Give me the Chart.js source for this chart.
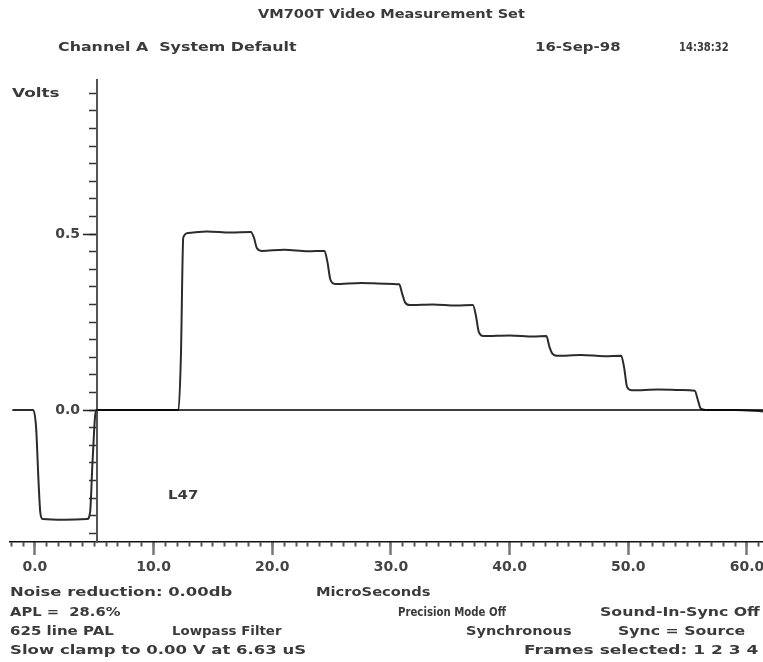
<!DOCTYPE html>
<html>
<head>
<meta charset="utf-8">
<script src="https://cdn.jsdelivr.net/npm/chart.js@4.4.0/dist/chart.umd.min.js"></script>
<style>
  html, body { margin: 0; padding: 0; background: #fff; }
  #wrap { position: relative; width: 763px; height: 662px; overflow: hidden; }
  #scope { position: absolute; left: 0; top: 0; }
  .t { position: absolute; font: bold 13px "DejaVu Sans", sans-serif; color: #3a3a3a;
       white-space: pre; line-height: 14px; transform-origin: 0 50%; }
</style>
</head>
<body>
<div id="wrap">
  <canvas id="scope" width="763" height="662"></canvas>

  <div class="t" style="left:258px;top:7px" data-w="267">VM700T Video Measurement Set</div>
  <div class="t" style="left:58px;top:40px" data-w="239">Channel A  System Default</div>
  <div class="t" style="left:535px;top:40px" data-w="85">16-Sep-98</div>
  <div class="t" style="left:679px;top:40px" data-w="50">14:38:32</div>
  <div class="t" style="left:12px;top:86px" data-w="48">Volts</div>
  <div class="t" style="left:168px;top:488px" data-w="30">L47</div>

  <div class="t" style="left:10px;top:585px" data-w="222">Noise reduction: 0.00db</div>
  <div class="t" style="left:316px;top:585px" data-w="115">MicroSeconds</div>
  <div class="t" style="left:10px;top:605px" data-w="110">APL =  28.6%</div>
  <div class="t" style="left:398px;top:605px" data-w="108">Precision Mode Off</div>
  <div class="t" style="left:600px;top:605px" data-w="160">Sound-In-Sync Off</div>
  <div class="t" style="left:10px;top:624px" data-w="104">625 line PAL</div>
  <div class="t" style="left:172px;top:624px" data-w="110">Lowpass Filter</div>
  <div class="t" style="left:466px;top:624px" data-w="106">Synchronous</div>
  <div class="t" style="left:618px;top:624px" data-w="127">Sync = Source</div>
  <div class="t" style="left:10px;top:643px" data-w="296">Slow clamp to 0.00 V at 6.63 uS</div>
  <div class="t" style="left:524px;top:643px" data-w="234">Frames selected: 1 2 3 4</div>
</div>
<script>
// line trace: time in microseconds, level in volts
const traceTime = [
  -1.9, -0.15, 0.1, 0.3, 0.45, 0.65, 2.5, 4.4, 4.65, 4.85, 5.15,
  8.5, 12.1, 12.3, 12.5, 12.9, 14.5, 16.5, 18.2,
  18.45, 18.7, 19.1, 21.0, 23.0, 24.4,
  24.65, 24.9, 25.3, 27.5, 29.5, 30.7,
  30.95, 31.2, 31.6, 33.5, 35.5, 36.9,
  37.15, 37.4, 37.8, 40.0, 42.0, 43.1,
  43.35, 43.6, 44.0, 46.0, 48.0, 49.4,
  49.65, 49.9, 50.3, 52.5, 54.5, 55.6,
  55.85, 56.1, 56.5, 59.0, 61.35
];
const traceVolts = [
  0, 0, -0.05, -0.2, -0.29, -0.31, -0.312, -0.31, -0.29, -0.15, 0,
  0, 0, 0.15, 0.49, 0.503, 0.507, 0.504, 0.506,
  0.49, 0.46, 0.452, 0.455, 0.451, 0.452,
  0.42, 0.37, 0.358, 0.361, 0.359, 0.357,
  0.33, 0.305, 0.298, 0.3, 0.297, 0.298,
  0.27, 0.222, 0.21, 0.212, 0.209, 0.21,
  0.18, 0.16, 0.154, 0.156, 0.153, 0.154,
  0.12, 0.065, 0.056, 0.058, 0.057, 0.055,
  0.03, 0.004, 0, 0, -0.004
];
// 0 V reference line from the volts axis to the right edge
const zeroTime = [5.2, 61.35];
const zeroVolts = [0, 0];

const xLabelTicks = [0, 10, 20, 30, 40, 50, 60];
const yLabelTicks = [0, 0.5];

const xMin = -2.1, xMax = 61.35;
const yMin = -0.375, yMax = 0.9375;
const axisAtTime = 5.2;     // the volts axis crosses here
const labelAtTime = 3.8;    // volts labels end here, left of the long ticks

// squeeze each text line to the width it has in the picture
document.querySelectorAll('.t').forEach(el => {
  const k = +el.dataset.w / el.offsetWidth;
  el.style.transform = 'scaleX(' + k + ')';
});

const tickFont = { family: 'DejaVu Sans', size: 14, weight: 'bold' };
const noPad = s => { s.paddingLeft = 0; s.paddingRight = 0; s.paddingTop = 0; s.paddingBottom = 0; };

const ctx = document.getElementById('scope').getContext('2d');
const scope = new Chart(ctx, {
  type: 'line',
  data: {
    datasets: [{
      label: 'zero',
      data: zeroTime.map((t, i) => ({ x: t, y: zeroVolts[i] })),
      borderColor: '#000',
      borderWidth: 1.3,
      pointRadius: 0,
      xAxisID: 'x',
      yAxisID: 'y'
    }, {
      label: 'trace',
      data: traceTime.map((t, i) => ({ x: t, y: traceVolts[i] })),
      borderColor: '#2b2b2b',
      borderWidth: 2,
      pointRadius: 0,
      cubicInterpolationMode: 'monotone',
      xAxisID: 'x',
      yAxisID: 'y'
    }]
  },
  options: {
    responsive: false,
    animation: false,
    events: [],
    layout: { padding: { left: 10, right: 0, top: 80, bottom: 120 } },
    plugins: { legend: { display: false }, tooltip: { enabled: false } },
    scales: {
      x: {
        type: 'linear', min: xMin, max: xMax, position: { y: yMin },
        grid: { drawOnChartArea: false, tickLength: 4, tickColor: '#555', tickWidth: 2 },
        border: { color: '#111', width: 1.5 },
        ticks: { display: false, stepSize: 1, autoSkip: false, includeBounds: false },
        afterFit: noPad
      },
      xMajor: {
        type: 'linear', min: xMin, max: xMax, position: { y: yMin },
        grid: { drawOnChartArea: false, tickLength: 13, tickColor: '#777', tickWidth: 2.5 },
        border: { display: false },
        ticks: { font: tickFont, color: '#444', padding: 4, autoSkip: false, maxRotation: 0,
                 callback: v => v.toFixed(1) },
        afterBuildTicks: s => { s.ticks = xLabelTicks.map(v => ({ value: v })); },
        afterFit: noPad
      },
      y: {
        type: 'linear', min: yMin, max: yMax, position: { x: axisAtTime },
        grid: { drawOnChartArea: false, tickLength: 7, tickColor: '#333', tickWidth: 1.5 },
        border: { color: '#555', width: 2 },
        ticks: { display: false, stepSize: 0.05, autoSkip: false, includeBounds: false },
        afterFit: noPad
      },
      yLong: {
        type: 'linear', min: yMin, max: yMax, position: { x: axisAtTime },
        grid: { drawOnChartArea: false, tickLength: 14, tickColor: '#222', tickWidth: 1.5 },
        border: { display: false },
        ticks: { display: false, autoSkip: false },
        afterBuildTicks: s => { s.ticks = yLabelTicks.map(v => ({ value: v })); },
        afterFit: noPad
      },
      yMajor: {
        type: 'linear', min: yMin, max: yMax, position: { x: labelAtTime },
        grid: { display: false },
        border: { display: false },
        ticks: { font: tickFont, color: '#444', padding: 0, autoSkip: false,
                 callback: v => v.toFixed(1) },
        afterBuildTicks: s => { s.ticks = yLabelTicks.map(v => ({ value: v })); },
        afterFit: noPad
      }
    }
  }
});
</script>
</body>
</html>
